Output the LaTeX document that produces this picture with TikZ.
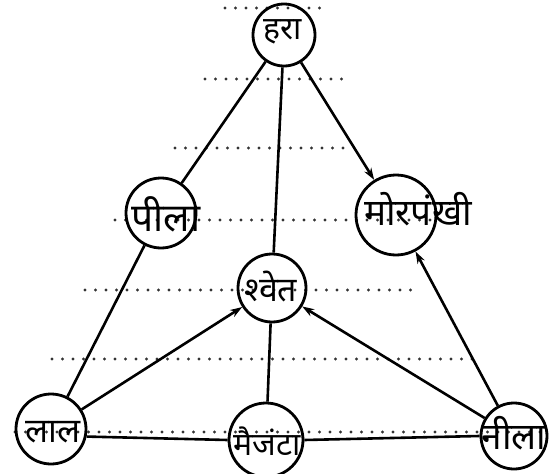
\documentclass[tikz,border=0pt]{standalone}
\usepackage{fontspec}
\newfontfamily\deva[Script=Devanagari]{Noto Sans}
\usetikzlibrary{arrows.meta}
\tikzset{
  cnode/.style={circle, draw, line width=2.8pt, minimum size=#1, inner sep=0pt},
  txt/.style={font=\deva\bfseries\fontsize{#1}{#1}\selectfont, inner sep=0pt},
  link/.style={line width=2.6pt},
  arr/.style={line width=2.6pt, -{Stealth[length=12pt,width=8pt]}},
  dots/.style={line width=3.2pt, line cap=round, dash pattern=on 0pt off 10.5pt, black!80},
}
\begin{document}
\begin{tikzpicture}[x=1pt,y=-1pt]
\useasboundingbox (0,0) rectangle (558,474);
% dotted guide lines
\draw[dots] (225,8) -- (322,8);
\draw[dots] (205,79) -- (342,79);
\draw[dots] (175,148) -- (348,148);
\draw[dots] (115,220) -- (450,220);
\draw[dots] (85,290) -- (418,290);
\draw[dots] (52,359) -- (480,359);
\draw[dots] (15,432) -- (545,432);
% circles
\node[cnode=62pt] (hara) at (284,35) {};
\node[cnode=70pt] (peela) at (161,213) {};
\node[cnode=80pt] (mor) at (396,215) {};
\node[cnode=68pt] (shwet) at (272,288) {};
\node[cnode=70pt] (laal) at (51,429) {};
\node[cnode=74pt] (magenta) at (266,440) {};
\node[cnode=66pt] (neela) at (514,436) {};
% texts
\node[txt=32] (thara) at (283,32) {हरा};
\node[txt=39] (tpeela) at (166,214) {पीला};
\node[txt=37] (tmor) at (418,209) {मोरपंखी};
\node[txt=34] (tshwet) at (271,287) {श्वेत};
\node[txt=34] (tlaal) at (53,432) {लाल};
\node[txt=32] (tmagenta) at (267,441) {मैजंटा};
\node[txt=37] (tneela) at (514,433) {नीला};
% connectors
\draw[link] (hara) -- (peela);
\draw[link] (peela) -- (laal);
\draw[link] (hara) -- (shwet);
\draw[arr] (hara) -- (mor);
\draw[arr] (neela) -- (mor);
\draw[arr] (laal) -- (shwet);
\draw[arr] (neela) -- (shwet);
\draw[link] (shwet) -- (magenta);
\draw[link] (laal.-12) -- (magenta.west);
\draw[link] (magenta.east) -- (neela.west);
\end{tikzpicture}
\end{document}
